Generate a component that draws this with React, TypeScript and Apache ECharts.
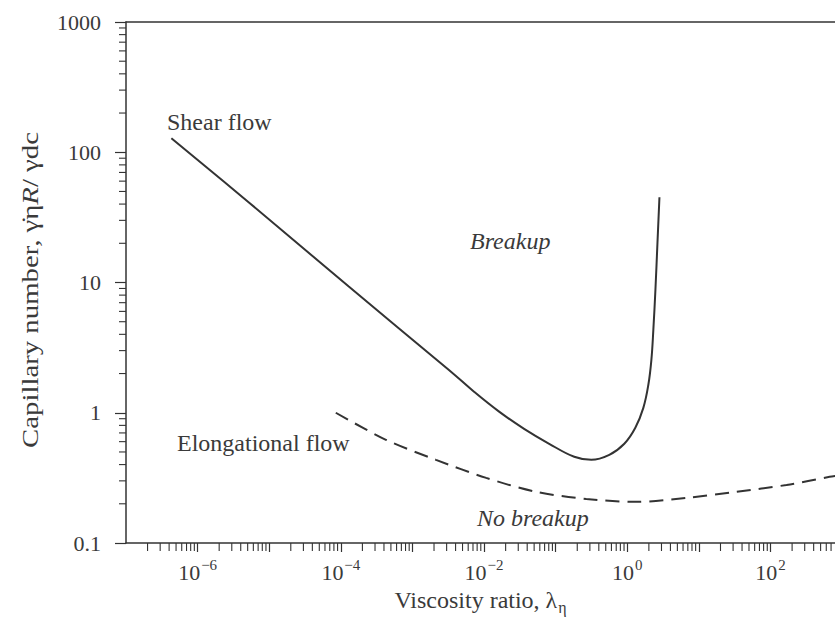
import React, { useEffect, useRef } from 'react';
import * as echarts from 'echarts';

// ---- data ----
// Shear flow critical capillary number (solid)
const shearLambda = [4.3e-7, 5.2e-6, 1.29e-4, 3.2e-3, 7.24e-3, 0.0162, 0.0362, 0.0811, 0.1815, 0.314, 0.56, 0.908, 1.294, 1.674, 1.967, 2.17, 2.31, 2.47, 2.63, 2.81];
const shearCa = [128, 41.2, 9.3, 2.14, 1.45, 1.02, 0.753, 0.578, 0.459, 0.435, 0.475, 0.578, 0.767, 1.09, 1.64, 2.56, 4.35, 8.83, 19.6, 45.1];

// Elongational flow critical capillary number (dashed)
const elongLambda = [8.5e-5, 4.26e-4, 2.13e-3, 0.0107, 0.0533, 0.267, 1.34, 6.68, 33.4, 167, 668, 900];
const elongCa = [1.0, 0.62, 0.435, 0.316, 0.247, 0.218, 0.207, 0.222, 0.247, 0.279, 0.322, 0.33];

// Axis ranges / labels
const X_MIN = 1e-7;
const X_MAX = Math.pow(10, 2.9);
const Y_MIN = 0.1;
const Y_MAX = 1000;
const xLabelExponents = [-6, -4, -2, 0, 2];
const yTickLabels = ['0.1', '1', '10', '100', '1000'];
const xDecades = [-7, -6, -5, -4, -3, -2, -1, 0, 1, 2];
const yDecades = [-1, 0, 1, 2];
const minorMultipliers = [2, 3, 4, 5, 6, 7, 8, 9];

const xMinorTicks: number[] = [];
xDecades.forEach((d) => minorMultipliers.forEach((k) => {
  const v = k * Math.pow(10, d);
  if (v < X_MAX) xMinorTicks.push(v);
}));
const yMinorTicks: number[] = [];
yDecades.forEach((d) => minorMultipliers.forEach((k) => yMinorTicks.push(k * Math.pow(10, d))));

const FONT = '"Liberation Serif", "Times New Roman", serif';
const INK = '#333';
const TEXT = '#3a3a3a';

export default function App() {
  const ref = useRef<HTMLDivElement>(null);

  useEffect(() => {
    if (!ref.current) return;
    const chart = echarts.init(ref.current, null, { renderer: 'svg' });

    const supText = (e: number) => (e < 0 ? '\u2212' + -e : String(e));

    const option: any = {
      animation: false,
      backgroundColor: '#fff',
      textStyle: { fontFamily: FONT, color: TEXT },
      grid: { left: 126, right: 0, top: 22, bottom: 90, containLabel: false },
      xAxis: [
        {
          type: 'log',
          logBase: 10,
          min: X_MIN,
          max: X_MAX,
          splitNumber: 10,
          position: 'bottom',
          axisLine: { show: true, lineStyle: { color: INK, width: 1.5 } },
          axisTick: { show: true, inside: false, length: 9, lineStyle: { color: INK, width: 1.2 } },
          splitLine: { show: false },
          axisLabel: {
            show: true,
            margin: 14,
            fontFamily: FONT,
            color: TEXT,
            showMinLabel: false,
            showMaxLabel: false,
            formatter: (v: number) => {
              const e = Math.round(Math.log10(v));
              if (Math.abs(Math.log10(v) - e) > 1e-6) return '';
              if (xLabelExponents.indexOf(e) < 0) return '';
              return '{b|10}{s|' + supText(e) + '}';
            },
            rich: {
              b: { fontFamily: FONT, fontSize: 22, color: TEXT, lineHeight: 26, verticalAlign: 'bottom' },
              s: { fontFamily: FONT, fontSize: 15, color: TEXT, lineHeight: 26, verticalAlign: 'top', padding: [0, 0, 0, 1] },
            },
          },
          name: '{a|Viscosity ratio, \u03bb}{sub|\u03b7}',
          nameLocation: 'middle',
          nameGap: 40,
          nameTextStyle: {
            rich: {
              a: { fontFamily: FONT, fontSize: 24, color: TEXT, lineHeight: 28, verticalAlign: 'top' },
              sub: { fontFamily: FONT, fontSize: 16, color: TEXT, lineHeight: 28, verticalAlign: 'bottom', padding: [8, 0, 0, 1] },
            },
          },
        },
        {
          type: 'log',
          logBase: 10,
          min: X_MIN,
          max: X_MAX,
          position: 'top',
          axisLine: { show: true, lineStyle: { color: INK, width: 1.5 } },
          axisTick: { show: false },
          axisLabel: { show: false },
          splitLine: { show: false },
        },
      ],
      yAxis: {
        type: 'log',
        logBase: 10,
        min: Y_MIN,
        max: Y_MAX,
        splitNumber: 4,
        axisLine: { show: true, lineStyle: { color: INK, width: 1.5 } },
        axisTick: { show: true, inside: false, length: 11, lineStyle: { color: INK, width: 1.2 } },
        splitLine: { show: false },
        axisLabel: {
          margin: 25,
          fontFamily: FONT,
          fontSize: 22,
          color: TEXT,
          formatter: (v: number) => {
            const e = Math.round(Math.log10(v));
            return yTickLabels[e + 1] ?? '';
          },
        },
      },
      graphic: [
        {
          type: 'text',
          x: 30,
          y: 290,
          rotation: Math.PI / 2,
          scaleX: 1.2,
          style: {
            text: 'Capillary number, \u03b3\u0307\u03b7{i|R}/ \u03b3dc',
            font: '24px ' + FONT,
            fill: TEXT,
            align: 'center',
            verticalAlign: 'middle',
            rich: {
              i: { fontFamily: FONT, fontSize: 24, fontStyle: 'italic', fill: TEXT },
            },
          },
        },
        { type: 'text', x: 167, y: 122, style: { text: 'Shear flow', font: '24px ' + FONT, fill: TEXT, align: 'left', verticalAlign: 'middle' } },
        { type: 'text', x: 470, y: 241, style: { text: 'Breakup', font: 'italic 24px ' + FONT, fill: TEXT, align: 'left', verticalAlign: 'middle' } },
        { type: 'text', x: 177, y: 443, style: { text: 'Elongational flow', font: '24px ' + FONT, fill: TEXT, align: 'left', verticalAlign: 'middle' } },
        { type: 'text', x: 477, y: 518, style: { text: 'No breakup', font: 'italic 24px ' + FONT, fill: TEXT, align: 'left', verticalAlign: 'middle' } },
      ],
      series: [
        {
          name: 'Shear flow',
          type: 'line',
          xAxisIndex: 0,
          data: shearLambda.map((x, i) => [x, shearCa[i]]),
          showSymbol: false,
          symbol: 'none',
          smooth: 0.4,
          lineStyle: { color: INK, width: 2 },
        },
        {
          name: 'Elongational flow',
          type: 'line',
          xAxisIndex: 0,
          data: elongLambda.map((x, i) => [x, elongCa[i]]),
          showSymbol: false,
          symbol: 'none',
          smooth: 0.3,
          lineStyle: { color: INK, width: 2, type: [14, 8] },
        },
        {
          name: 'x minor ticks',
          type: 'custom',
          xAxisIndex: 0,
          silent: true,
          clip: false,
          data: xMinorTicks.map((v) => [v, Y_MIN]),
          renderItem: (params: any, api: any) => {
            const p = api.coord([api.value(0), api.value(1)]);
            return {
              type: 'line',
              shape: { x1: p[0], y1: p[1], x2: p[0], y2: p[1] + 8 },
              style: { stroke: INK, lineWidth: 1.1 },
            };
          },
        },
        {
          name: 'y minor ticks',
          type: 'custom',
          xAxisIndex: 0,
          silent: true,
          clip: false,
          data: yMinorTicks.map((v) => [X_MIN, v]),
          renderItem: (params: any, api: any) => {
            const p = api.coord([api.value(0), api.value(1)]);
            return {
              type: 'line',
              shape: { x1: p[0] - 7, y1: p[1], x2: p[0], y2: p[1] },
              style: { stroke: INK, lineWidth: 1.1 },
            };
          },
        },
      ],
    };

    chart.setOption(option);
    return () => chart.dispose();
  }, []);

  return (
    <div
      ref={ref}
      style={{ position: 'absolute', left: 0, top: 0, width: 835, height: 633, background: '#fff' }}
    />
  );
}
